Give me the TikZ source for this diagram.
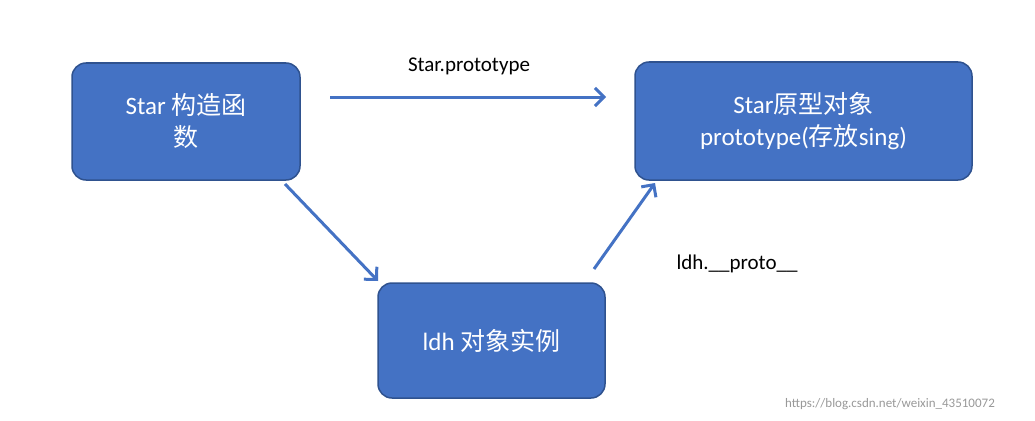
\documentclass[tikz,border=0pt]{standalone}
\usepackage{fontspec}
\setmainfont{Carlito}
\newfontfamily\cjk{Noto Sans CJK SC}
\usetikzlibrary{arrows.meta}
\definecolor{boxfill}{HTML}{4472C4}
\definecolor{boxline}{HTML}{2F528F}
\begin{document}
\begin{tikzpicture}[x=1pt,y=-1pt,
  bluebox/.style={draw=boxline,line width=1.5pt,fill=boxfill,rounded corners=14pt,text=white,align=center,font=\fontsize{25}{32}\selectfont,inner sep=0pt},
  conn/.style={draw=boxfill,line width=3pt,-{Straight Barb[length=9pt,width=18pt,line width=3pt]}},
  lbl/.style={font=\fontsize{21}{25}\selectfont,text=black}]
\useasboundingbox (0,0) rectangle (1035,420);
\fill[white] (0,0) rectangle (1035,420);
\node[bluebox,minimum width=228pt,minimum height=117pt] (star) at (186,121.5) {Star {\cjk 构造函}\\{\cjk 数}};
\node[bluebox,minimum width=337pt,minimum height=118pt] (proto) at (803.5,121) {Star{\cjk 原型对象}\\prototype({\cjk 存放}sing)};
\node[bluebox,minimum width=227pt,minimum height=115pt] (ldh) at (491.5,340.5) {ldh {\cjk 对象实例}};
\coordinate (a1s) at (330,97);
\coordinate (a1e) at (606,97);
\draw[conn] (a1s) -- (a1e);
\coordinate (a2s) at (285,184);
\coordinate (a2e) at (378,281);
\draw[conn] (a2s) -- (a2e);
\coordinate (a3s) at (594,269);
\coordinate (a3e) at (655,183);
\draw[conn] (a3s) -- (a3e);
\node[lbl] (l1) at (469,66) {Star.prototype};
\node[lbl] (l2) at (737,264) {ldh.\_\_proto\_\_};
\node[font=\fontsize{13}{15}\selectfont,text=black!40] (wm) at (890,404) {https://blog.csdn.net/weixin\_43510072};
\end{tikzpicture}
\end{document}
